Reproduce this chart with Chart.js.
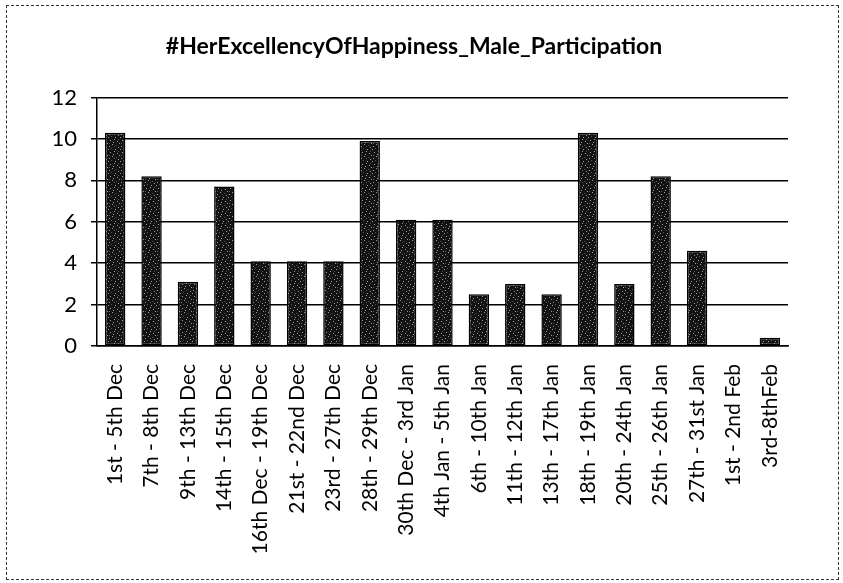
<!DOCTYPE html>
<html lang="en">
  <head>
    <meta charset="UTF-8" />
    <title>#HerExcellencyOfHappiness_Male_Participation</title>
    <script src="https://cdn.jsdelivr.net/npm/chart.js"></script>
    <style>
      html, body { margin: 0; padding: 0; background: #fff; }
      .caixa {
        position: relative;
        width: 843px;
        height: 583px;
      }
      .moldura {
        position: absolute;
        left: 6px; top: 5px; right: 4px; bottom: 3px;
        border: 1.5px dashed #333;
        pointer-events: none;
      }
    </style>
  </head>
  <body>
    <div class="caixa">
      <canvas id="grafico" width="843" height="583"></canvas>
      <div class="moldura"></div>
    </div>

    <script>
      // periodos (eixo x)
      const periodos = [
        '1st - 5th Dec', '7th - 8th Dec', '9th - 13th Dec', '14th - 15th Dec',
        '16th Dec - 19th Dec', '21st - 22nd Dec', '23rd - 27th Dec', '28th - 29th Dec',
        '30th Dec - 3rd Jan', '4th Jan - 5th Jan', '6th - 10th Jan', '11th - 12th Jan',
        '13th - 17th Jan', '18th - 19th Jan', '20th - 24th Jan', '25th - 26th Jan',
        '27th - 31st Jan', '1st - 2nd Feb', '3rd-8thFeb'
      ]

      // participacao masculina
      const participacao = [
        10.3, 8.2, 3.1, 7.7, 4.1, 4.1, 4.1, 9.9, 6.1, 6.1,
        2.5, 3.0, 2.5, 10.3, 3.0, 8.2, 4.6, 0, 0.4
      ]

      // ticks do eixo y
      const ticksY = [0, 2, 4, 6, 8, 10, 12]

      const titulo = '#HerExcellencyOfHappiness_Male_Participation'

      // textura escura das barras (padrao fixo, sem aleatorio)
      function texturaBarra() {
        const c = document.createElement('canvas')
        c.width = 12
        c.height = 12
        const ctx = c.getContext('2d')
        ctx.fillStyle = '#121212'
        ctx.fillRect(0, 0, 12, 12)
        ctx.fillStyle = '#a0a0a0'
        const pontos = [[1, 2], [4, 0], [7, 5], [10, 3], [2, 8], [5, 10], [9, 9], [6, 7], [0, 5], [11, 11]]
        pontos.forEach(p => ctx.fillRect(p[0], p[1], 1, 1))
        ctx.fillStyle = '#5a5a5a'
        const pontos2 = [[3, 4], [8, 1], [10, 7], [1, 11], [6, 2]]
        pontos2.forEach(p => ctx.fillRect(p[0], p[1], 1, 1))
        return ctx.createPattern(c, 'repeat')
      }

      const config = {
        type: 'bar',
        data: {
          labels: periodos,
          datasets: [{
            label: 'Male Participation',
            data: participacao,
            backgroundColor: texturaBarra(),
            borderColor: '#000',
            borderWidth: 1.5,
            borderSkipped: false,
            barPercentage: 0.56,
            categoryPercentage: 1
          }]
        },
        options: {
          responsive: false,
          animation: false,
          layout: { padding: { left: 40, right: 55, top: 0, bottom: 10 } },
          plugins: {
            legend: { display: false },
            tooltip: { enabled: false },
            title: {
              display: true,
              text: titulo,
              color: '#000',
              font: { family: 'Lato', size: 23, weight: 'bold' },
              padding: { top: 33, bottom: 37 }
            }
          },
          scales: {
            x: {
              grid: { display: false, drawTicks: true },
              border: { color: '#000', width: 1.5 },
              ticks: {
                color: '#000',
                font: { family: 'Lato', size: 21 },
                minRotation: 90,
                maxRotation: 90,
                autoSkip: false,
                padding: 10
              },
              afterFit: function (scale) { scale.height = 227 }
            },
            y: {
              min: 0,
              max: 12,
              afterBuildTicks: function (scale) {
                scale.ticks = ticksY.map(v => ({ value: v }))
              },
              grid: {
                color: '#000',
                lineWidth: 1.5,
                tickLength: 6,
                tickColor: '#000'
              },
              border: { color: '#000', width: 1.5 },
              ticks: {
                color: '#000',
                font: { family: 'Lato', size: 22 },
                padding: 14
              },
              afterFit: function (scale) { scale.width = 57 }
            }
          }
        }
      }

      let meuGrafico = new Chart(document.getElementById('grafico'), config)
    </script>
  </body>
</html>
